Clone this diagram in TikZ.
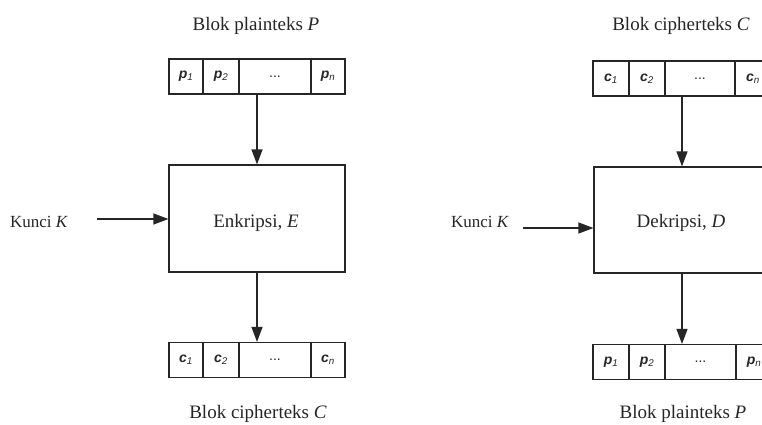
\documentclass[tikz,border=0pt]{standalone}
\usepackage{fontspec}
\setmainfont{Liberation Serif}
\setsansfont{Liberation Sans}
\usetikzlibrary{arrows.meta}
\newcommand{\cl}[2]{{\sffamily\bfseries\itshape #1}\textsubscript{\sffamily\itshape #2}}
\begin{document}
\begin{tikzpicture}[x=1pt,y=-1pt,
  line width=1.2pt, color=black!85, text=black!85,
  cell/.style={draw, rectangle, inner sep=0pt, minimum height=35pt, font=\sffamily\fontsize{14}{16}\selectfont},
  blk/.style={rectangle, inner sep=0pt, minimum height=35pt},
  box/.style={draw, rectangle, inner sep=0pt, font=\fontsize{19}{22}\selectfont},
  ttl/.style={anchor=base, inner sep=0pt, font=\fontsize{19}{22}\selectfont},
  kun/.style={anchor=base, inner sep=0pt, font=\fontsize{17}{20}\selectfont},
  arr/.style={-{Triangle[length=15pt,width=11pt]}}]
\useasboundingbox (0,0) rectangle (762,424);
\clip (0,0) rectangle (762,424);
\fill[white] (0,0) rectangle (762,424);

% ---------- left: encryption ----------
\node[ttl] (lt) at (256,30) {Blok plainteks \textit{P}};
\node[blk, minimum width=176pt] (ltop) at (257,76.5) {};
\node[cell, minimum width=34pt] (lp1) at (186,76.5) {\cl{p}{1}};
\node[cell, minimum width=36pt] (lp2) at (221,76.5) {\cl{p}{2}};
\node[cell, minimum width=72pt] (lp3) at (275,76.5) {...};
\node[cell, minimum width=34pt] (lpn) at (328,76.5) {\cl{p}{n}};

\node[box, minimum width=176pt, minimum height=107pt] (lbox) at (257,218.5) {};
\node[inner sep=0pt, anchor=base, font=\fontsize{19}{22}\selectfont] (ltext) at (256,227) {Enkripsi, \textit{E}};

\node[kun] (lk) at (39,227) {Kunci \textit{K}};
\coordinate (lks) at (97,219);
\draw[arr] (lks) -- (lbox.west |- lks);

\node[blk, minimum width=176pt] (lbot) at (257,360) {};
\node[cell, minimum width=34pt] (lc1) at (186,360) {\cl{c}{1}};
\node[cell, minimum width=36pt] (lc2) at (221,360) {\cl{c}{2}};
\node[cell, minimum width=72pt] (lc3) at (275,360) {...};
\node[cell, minimum width=34pt] (lcn) at (328,360) {\cl{c}{n}};
\node[ttl] (lb) at (258,418) {Blok cipherteks \textit{C}};

\draw[arr] (ltop.south) -- (lbox.north);
\draw[arr] (lbox.south) -- (lbot.north);

% ---------- right: decryption ----------
\node[ttl] (rt) at (681,30) {Blok cipherteks \textit{C}};
\node[blk, minimum width=178pt] (rtop) at (682,78.5) {};
\node[cell, minimum width=36pt] (rc1) at (611,78.5) {\cl{c}{1}};
\node[cell, minimum width=36pt] (rc2) at (647,78.5) {\cl{c}{2}};
\node[cell, minimum width=70pt] (rc3) at (700,78.5) {...};
\node[cell, minimum width=36pt] (rcn) at (753,78.5) {\cl{c}{n}};

\node[box, minimum width=176pt, minimum height=106pt] (rbox) at (682,220) {};
\node[inner sep=0pt, anchor=base, font=\fontsize{19}{22}\selectfont] (rtext) at (681,227) {Dekripsi, \textit{D}};

\node[kun] (rk) at (480,227) {Kunci \textit{K}};
\coordinate (rks) at (523,228);
\draw[arr] (rks) -- (rbox.west |- rks);

\node[blk, minimum width=178pt] (rbot) at (682,362) {};
\node[cell, minimum width=36pt] (rp1) at (611,362) {\cl{p}{1}};
\node[cell, minimum width=36pt] (rp2) at (647,362) {\cl{p}{2}};
\node[cell, minimum width=71pt] (rp3) at (700.5,362) {...};
\node[cell, minimum width=36pt] (rpn) at (754,362) {\cl{p}{n}};
\node[ttl] (rb) at (683,418) {Blok plainteks \textit{P}};

\draw[arr] (rtop.south) -- (rbox.north);
\draw[arr] (rbox.south) -- (rbot.north);
\end{tikzpicture}
\end{document}
